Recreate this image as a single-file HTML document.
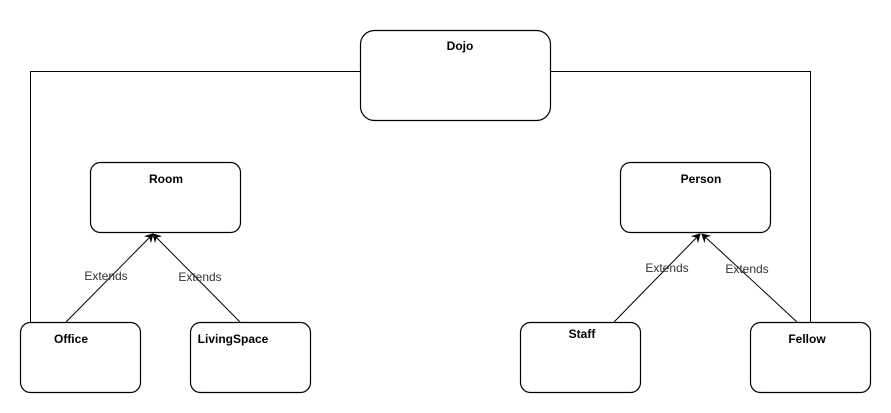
<!DOCTYPE html>
<html><head><style>body{margin:0;background:#fff}svg{display:block}</style></head><body>
<svg width="891" height="413" xmlns="http://www.w3.org/2000/svg" font-family="Liberation Sans, Arial, sans-serif">
<defs><marker id="a" markerWidth="10" markerHeight="10" refX="8" refY="5" orient="auto" markerUnits="userSpaceOnUse"><path d="M0,0 L9,5 L0,10 L3,5 Z" fill="#000"/></marker></defs>
<g fill="#fff" stroke="#000" stroke-width="1.2">
<rect x="360.5" y="30.5" width="190" height="90" rx="14"/>
<rect x="90.5" y="162.5" width="150" height="70" rx="10"/>
<rect x="620.5" y="162.5" width="150" height="70" rx="10"/>
<rect x="20.5" y="322.5" width="120" height="70" rx="10"/>
<rect x="190.5" y="322.5" width="120" height="70" rx="10"/>
<rect x="520.5" y="322.5" width="120" height="70" rx="10"/>
<rect x="750.5" y="322.5" width="120" height="70" rx="10"/>
</g>
<g fill="none" stroke="#000" stroke-width="1">
<path d="M360,71.5 H30.5 V322"/>
<path d="M550,71.5 H810.5 V322"/>
<line x1="66" y1="322" x2="153" y2="234" marker-end="url(#a)"/>
<line x1="240" y1="322" x2="153" y2="234" marker-end="url(#a)"/>
<line x1="614" y1="322" x2="700" y2="234" marker-end="url(#a)"/>
<line x1="797" y1="322" x2="702" y2="234" marker-end="url(#a)"/>
</g>
<g font-size="12" font-weight="bold" text-anchor="middle" fill="#000">
<text x="460" y="50">Dojo</text>
<text x="166" y="183">Room</text>
<text x="701" y="183">Person</text>
<text x="71" y="343">Office</text>
<text x="233" y="343">LivingSpace</text>
<text x="582" y="338">Staff</text>
<text x="807" y="343">Fellow</text>
</g>
<g font-size="12" text-anchor="middle" fill="#333">
<text x="106" y="280">Extends</text>
<text x="200" y="281">Extends</text>
<text x="667" y="272">Extends</text>
<text x="747" y="273">Extends</text>
</g>
</svg>
</body></html>
